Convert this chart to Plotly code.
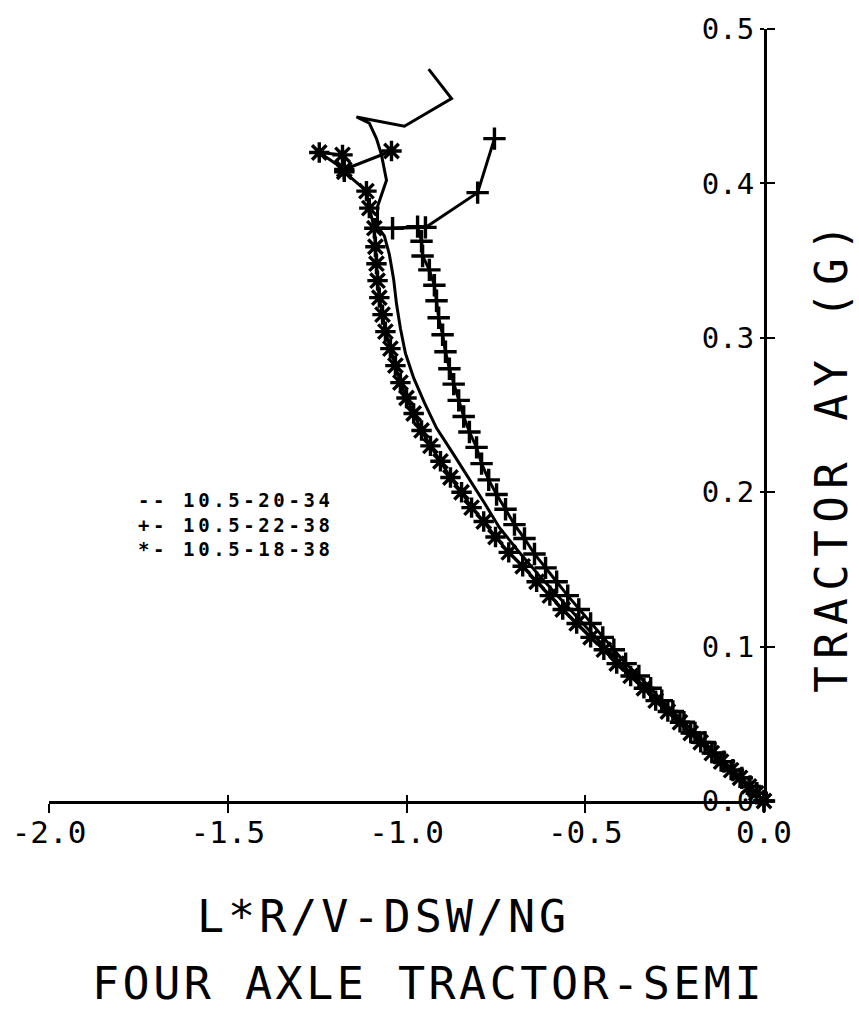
import plotly.graph_objects as go

# Lateral acceleration vs. handling parameter for three tire/axle configurations
solid_x = [0.000, -0.078, -0.154, -0.227, -0.294, -0.364, -0.434, -0.499, -0.563, -0.625,
           -0.684, -0.740, -0.782, -0.826, -0.871, -0.916, -0.950, -0.980, -1.003, -1.017,
           -1.028, -1.036, -1.048, -1.062, -1.081, -1.081, -1.056, -1.070, -1.084, -1.104,
           -1.140, -1.006, -0.874, -0.938]
solid_y = [0.000, 0.0165, 0.0326, 0.0487, 0.0648, 0.0808, 0.0969, 0.113, 0.129, 0.145,
           0.161, 0.177, 0.193, 0.2095, 0.2255, 0.2415, 0.258, 0.274, 0.290, 0.306,
           0.322, 0.338, 0.354, 0.366, 0.372, 0.385, 0.402, 0.4185, 0.429, 0.439,
           0.443, 0.437, 0.455, 0.474]

plus_x = [0.000, -0.020, -0.039, -0.062, -0.087, -0.112, -0.137, -0.165, -0.193, -0.224,
          -0.255, -0.286, -0.317, -0.350, -0.387, -0.420, -0.451, -0.485, -0.518, -0.549,
          -0.580, -0.611, -0.642, -0.670, -0.698, -0.723, -0.748, -0.770, -0.790, -0.804,
          -0.824, -0.840, -0.854, -0.868, -0.880, -0.891, -0.899, -0.910, -0.916, -0.922,
          -0.936, -0.955, -0.958, -0.969, -1.039, -0.947, -0.801, -0.754]
plus_y = [0.000, 0.005, 0.0095, 0.015, 0.020, 0.0255, 0.031, 0.038, 0.044, 0.051,
          0.058, 0.065, 0.073, 0.081, 0.089, 0.098, 0.106, 0.115, 0.124, 0.133,
          0.142, 0.151, 0.160, 0.170, 0.179, 0.189, 0.1985, 0.208, 0.2185, 0.229,
          0.239, 0.249, 0.2595, 0.270, 0.280, 0.291, 0.302, 0.313, 0.324, 0.334,
          0.344, 0.353, 0.3625, 0.372, 0.371, 0.3715, 0.394, 0.429]

star_x = [0.000, -0.022, -0.042, -0.067, -0.092, -0.120, -0.146, -0.177, -0.205, -0.235,
          -0.269, -0.303, -0.336, -0.373, -0.412, -0.448, -0.485, -0.524, -0.563, -0.599,
          -0.636, -0.675, -0.714, -0.751, -0.784, -0.818, -0.846, -0.877, -0.905, -0.933,
          -0.958, -0.980, -1.000, -1.017, -1.031, -1.045, -1.059, -1.067, -1.076, -1.081,
          -1.084, -1.087, -1.090, -1.104, -1.112, -1.174, -1.179, -1.244, -1.174, -1.042]
star_y = [0.000, 0.005, 0.0095, 0.015, 0.020, 0.0255, 0.031, 0.038, 0.044, 0.051,
          0.058, 0.065, 0.073, 0.081, 0.089, 0.098, 0.106, 0.115, 0.124, 0.133,
          0.142, 0.152, 0.161, 0.171, 0.181, 0.190, 0.200, 0.2095, 0.220, 0.230,
          0.240, 0.251, 0.261, 0.271, 0.282, 0.293, 0.304, 0.315, 0.326, 0.337,
          0.348, 0.359, 0.371, 0.384, 0.395, 0.4075, 0.4185, 0.420, 0.409, 0.421]

legend_lines = ["-- 10.5-20-34", "+- 10.5-22-38", "*- 10.5-18-38"]

x_tick_vals = [-2.0, -1.5, -1.0, -0.5, 0.0]
x_tick_text = ["-2.0", "-1.5", "-1.0", "-0.5", "0.0"]
y_tick_vals = [0.0, 0.1, 0.2, 0.3, 0.4, 0.5]
y_tick_text = ["0.0", "0.1", "0.2", "0.3", "0.4", "0.5"]

x_title = "L*R/V-DSW/NG"
y_title = "TRACTOR AY (G)"
main_title = "FOUR AXLE TRACTOR-SEMI"

MONO = "DejaVu Sans Mono"
INK = "black"


def spaced(text, px):
    return f"<span style='letter-spacing:{px}px'>{text}</span>"


fig = go.Figure()

fig.add_trace(go.Scatter(
    x=solid_x, y=solid_y, mode="lines",
    line=dict(color=INK, width=3), cliponaxis=False, showlegend=False))

fig.add_trace(go.Scatter(
    x=plus_x, y=plus_y, mode="lines+markers",
    line=dict(color=INK, width=3),
    marker=dict(symbol="cross-thin-open", size=16, line=dict(color=INK, width=3.4)),
    cliponaxis=False, showlegend=False))

fig.add_trace(go.Scatter(
    x=star_x, y=star_y, mode="lines+markers",
    line=dict(color=INK, width=3),
    marker=dict(symbol="asterisk-open", size=17, line=dict(color=INK, width=3.4)),
    cliponaxis=False, showlegend=False))

# invisible companion trace so the overlay axes (crossing tick halves, y labels) exist
fig.add_trace(go.Scatter(x=[None], y=[None], xaxis="x2", yaxis="y2",
                         mode="markers", showlegend=False, hoverinfo="skip"))

fig.update_layout(
    width=859, height=1014,
    margin=dict(l=49, r=95, t=23, b=213),
    paper_bgcolor="white", plot_bgcolor="white",
    font=dict(family=MONO, color=INK),
    xaxis=dict(
        range=[-2.0, 0.0], showgrid=False, zeroline=False,
        showline=True, linecolor=INK, linewidth=3,
        ticks="outside", ticklen=9, tickwidth=2, tickcolor=INK,
        tickvals=x_tick_vals, ticktext=x_tick_text,
        tickfont=dict(family=MONO, size=31, color=INK),
        ticklabelstandoff=-7,
    ),
    xaxis2=dict(
        range=[-2.0, 0.0], overlaying="x", anchor="y", side="bottom",
        showgrid=False, zeroline=False, showline=False,
        ticks="inside", ticklen=6, tickwidth=2, tickcolor=INK,
        tickvals=x_tick_vals, showticklabels=False,
    ),
    yaxis=dict(
        range=[0.0, 0.5], side="right", showgrid=False, zeroline=False,
        showline=True, linecolor=INK, linewidth=2.5,
        ticks="outside", ticklen=8, tickwidth=2, tickcolor=INK,
        tickvals=y_tick_vals, showticklabels=False,
    ),
    yaxis2=dict(
        range=[0.0, 0.5], overlaying="y", anchor="free", position=1.0, side="left",
        showgrid=False, zeroline=False, showline=False,
        ticks="outside", ticklen=4, tickwidth=2, tickcolor=INK,
        tickvals=y_tick_vals, ticktext=y_tick_text,
        tickfont=dict(family=MONO, size=29, color=INK),
        ticklabelstandoff=0,
    ),
)

fig.add_annotation(
    text="<br>".join(spaced(s, 3.6) for s in legend_lines),
    xref="paper", yref="paper", x=(136 - 49) / 715, y=(801 - 485) / 778,
    xanchor="left", yanchor="top", align="left", showarrow=False,
    font=dict(family=MONO, size=19, color=INK, weight="bold"),
)

fig.add_annotation(
    text=spaced(y_title, 7.5), textangle=-90,
    xref="paper", yref="paper", x=(832 - 49) / 715, y=(801 - 452) / 778,
    xanchor="center", yanchor="middle", showarrow=False,
    font=dict(family=MONO, size=44, color=INK),
)

fig.add_annotation(
    text=spaced(x_title, 4), xref="paper", yref="paper",
    x=(383 - 49) / 715, y=(801 - 917) / 778,
    xanchor="center", yanchor="middle", showarrow=False,
    font=dict(family=MONO, size=45, color=INK),
)

fig.add_annotation(
    text=spaced(main_title, 3.5), xref="paper", yref="paper",
    x=(428 - 49) / 715, y=(801 - 985) / 778,
    xanchor="center", yanchor="middle", showarrow=False,
    font=dict(family=MONO, size=45, color=INK),
)

fig.write_html("out.html")
